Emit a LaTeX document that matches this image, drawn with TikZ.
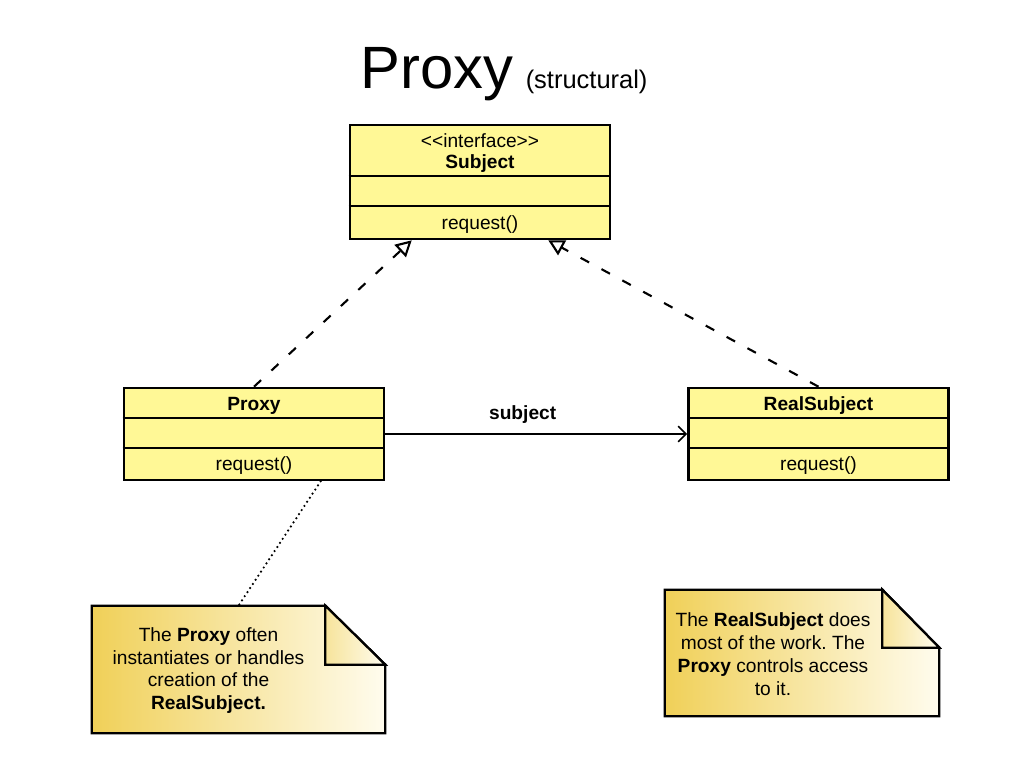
\documentclass[tikz,border=0pt]{standalone}
\usepackage{fontspec}
\setmainfont{Liberation Sans}
\usetikzlibrary{calc,arrows.meta}
\definecolor{umlyellow}{RGB}{255,248,150}
\definecolor{notegold}{RGB}{240,208,88}
\definecolor{notelight}{RGB}{255,252,238}
\frenchspacing

\begin{document}
\begin{tikzpicture}[x=0.02cm,y=-0.02cm]
\tikzset{cls/.style = {draw, line width=1.5pt, fill=umlyellow, minimum width=5.2cm, inner sep=0pt}}
\tikzset{sep/.style = {line width=1pt}}
\tikzset{lbl/.style = {font=\fontsize{10.9}{13}\selectfont, inner sep=0pt}}
\tikzset{realize/.style = {dash pattern=on 5.5pt off 8pt, line width=1.2pt, -{Triangle[open,length=9pt,width=9.5pt]}}}
\tikzset{assoc/.style = {line width=0.9pt, -{Straight Barb[length=4.5pt,width=9pt]}}}
\tikzset{notelink/.style = {line width=1.4pt, dash pattern=on 0pt off 2.8pt, line cap=round}}
\tikzset{notebox/.style = {inner sep=0pt}}
\tikzset{noteedge/.style = {draw=black, line width=1.3pt, line join=miter}}
\tikzset{notetext/.style = {lbl, align=center}}

\useasboundingbox (0,0) rectangle (1024,768);

% title
\node[anchor=base west, inner sep=0pt, font=\fontsize{34}{40}\selectfont] (title) at (360,88) {Proxy};
\node[anchor=base west, inner sep=0pt, font=\fontsize{14.5}{17}\selectfont] (kind) at ($(title.base east)+(12,0)$) {(structural)};

% interface
\node[cls, minimum height=2.28cm] (subject) at (480,182) {};
\draw[sep] ($(subject.north west)+(0,52)$) -- ($(subject.north east)+(0,52)$);
\draw[sep] ($(subject.north west)+(0,82)$) -- ($(subject.north east)+(0,82)$);
\node[lbl] (subjstereo) at ($(subject.north)+(0,17)$) {<\kern0pt<interface>\kern0pt>};
\node[lbl] (subjname) at ($(subject.north)+(0,40)$) {\textbf{Subject}};
\node[lbl] (subjop) at ($(subject.north)+(0,101)$) {request()};

% proxy
\node[cls, minimum height=1.84cm] (proxy) at (254,434) {};
\draw[sep] ($(proxy.north west)+(0,31)$) -- ($(proxy.north east)+(0,31)$);
\draw[sep] ($(proxy.north west)+(0,61)$) -- ($(proxy.north east)+(0,61)$);
\node[lbl] (proxyname) at ($(proxy.north)+(0,19)$) {\textbf{Proxy}};
\node[lbl] (proxyop) at ($(proxy.north)+(0,79)$) {request()};

% real subject
\node[cls, minimum height=1.84cm] (realsubject) at (818.5,434) {};
\draw[sep] ($(realsubject.north west)+(0,31)$) -- ($(realsubject.north east)+(0,31)$);
\draw[sep] ($(realsubject.north west)+(0,61)$) -- ($(realsubject.north east)+(0,61)$);
\node[lbl] (realname) at ($(realsubject.north)+(0,19)$) {\textbf{RealSubject}};
\node[lbl] (realop) at ($(realsubject.north)+(0,79)$) {request()};

% relations
\draw[realize] (proxy.north) -- ($(subject.south west)!0.24!(subject.south east)$);
\draw[realize] (realsubject.north) -- ($(subject.south west)!0.76!(subject.south east)$);
\draw[assoc] (proxy) -- node[lbl, pos=0.455, yshift=11pt] (assoclabel) {\textbf{subject}} (realsubject);

% notes
\node[notebox, minimum width=5.86cm, minimum height=2.54cm] (proxynote) at (238.5,669.5) {};
\shadedraw[noteedge, left color=notegold, right color=notelight] (proxynote.north west) -- ($(proxynote.north east)+(-60,0)$) -- ($(proxynote.north east)+(0,59)$) -- (proxynote.south east) -- (proxynote.south west) -- cycle;
\shadedraw[noteedge, left color=notegold!55!notelight, right color=notelight] ($(proxynote.north east)+(-60,0)$) -- ($(proxynote.north east)+(-60,59)$) -- ($(proxynote.north east)+(0,59)$) -- cycle;
\node[notetext] (proxynotetext) at ($(proxynote.center)+(-30,1)$) {The \textbf{Proxy} often\\instantiates or handles\\creation of the\\\textbf{RealSubject.}};

\node[notebox, minimum width=5.48cm, minimum height=2.52cm] (realnote) at (802,653) {};
\shadedraw[noteedge, left color=notegold, right color=notelight] (realnote.north west) -- ($(realnote.north east)+(-57,0)$) -- ($(realnote.north east)+(0,58)$) -- (realnote.south east) -- (realnote.south west) -- cycle;
\shadedraw[noteedge, left color=notegold!55!notelight, right color=notelight] ($(realnote.north east)+(-57,0)$) -- ($(realnote.north east)+(-57,58)$) -- ($(realnote.north east)+(0,58)$) -- cycle;
\node[notetext] (realnotetext) at ($(realnote.center)+(-29,1)$) {The \textbf{RealSubject} does\\most of the work. The\\\textbf{Proxy} controls access\\to it.};

\draw[notelink] ($(proxy.south west)!0.754!(proxy.south east)$) -- (proxynote.north);
\end{tikzpicture}
\end{document}
